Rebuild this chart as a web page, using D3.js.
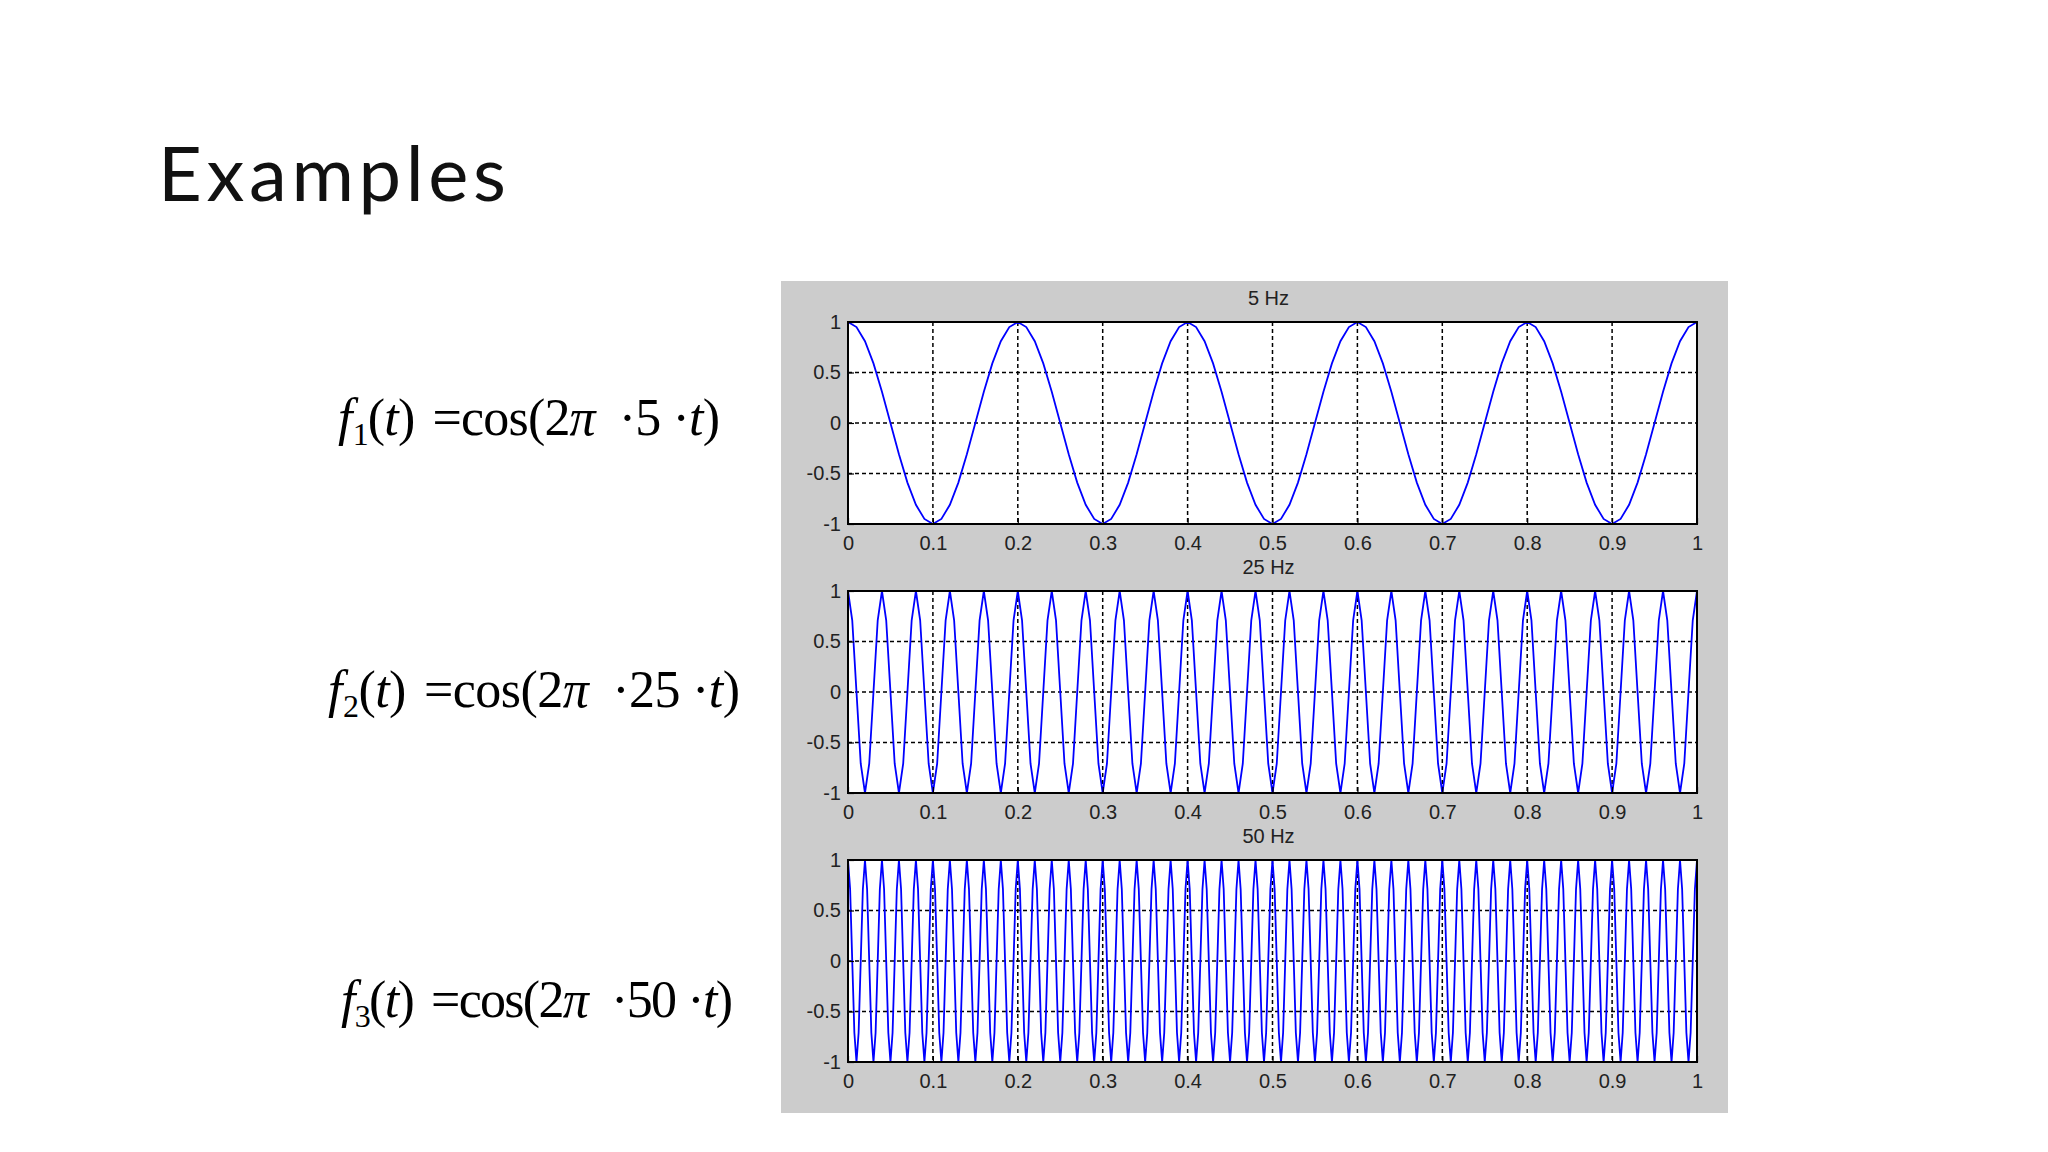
<!DOCTYPE html>
<html>
<head>
<meta charset="utf-8">
<script src="https://cdn.jsdelivr.net/npm/d3@7"></script>
<style>
  body { margin: 0; background: #fff; }
  svg { display: block; }
</style>
</head>
<body>
<svg width="2048" height="1152"></svg>
<script>
// chart data
var titles = ['5 Hz', '25 Hz', '50 Hz'];
var subs = ['1', '2', '3'];
var freqLabels = ['5', '25', '50'];
var xTicks = [0, 0.1, 0.2, 0.3, 0.4, 0.5, 0.6, 0.7, 0.8, 0.9, 1];
var yTicks = [-1, -0.5, 0, 0.5, 1];
var steps = [0.01, 0.005, 0.0025];

var wave5 = [
  1,.95,.81,.59,.31,0,-.31,-.59,-.81,-.95,-1,-.95,-.81,-.59,-.31,0,.31,.59,.81,.95,
  1,.95,.81,.59,.31,0,-.31,-.59,-.81,-.95,-1,-.95,-.81,-.59,-.31,0,.31,.59,.81,.95,
  1,.95,.81,.59,.31,0,-.31,-.59,-.81,-.95,-1,-.95,-.81,-.59,-.31,0,.31,.59,.81,.95,
  1,.95,.81,.59,.31,0,-.31,-.59,-.81,-.95,-1,-.95,-.81,-.59,-.31,0,.31,.59,.81,.95,
  1,.95,.81,.59,.31,0,-.31,-.59,-.81,-.95,-1,-.95,-.81,-.59,-.31,0,.31,.59,.81,.95,
  1];

var wave25 = [
  1,.71,0,-.71,-1,-.71,0,.71, 1,.71,0,-.71,-1,-.71,0,.71, 1,.71,0,-.71,-1,-.71,0,.71, 1,.71,0,-.71,-1,-.71,0,.71, 1,.71,0,-.71,-1,-.71,0,.71,
  1,.71,0,-.71,-1,-.71,0,.71, 1,.71,0,-.71,-1,-.71,0,.71, 1,.71,0,-.71,-1,-.71,0,.71, 1,.71,0,-.71,-1,-.71,0,.71, 1,.71,0,-.71,-1,-.71,0,.71,
  1,.71,0,-.71,-1,-.71,0,.71, 1,.71,0,-.71,-1,-.71,0,.71, 1,.71,0,-.71,-1,-.71,0,.71, 1,.71,0,-.71,-1,-.71,0,.71, 1,.71,0,-.71,-1,-.71,0,.71,
  1,.71,0,-.71,-1,-.71,0,.71, 1,.71,0,-.71,-1,-.71,0,.71, 1,.71,0,-.71,-1,-.71,0,.71, 1,.71,0,-.71,-1,-.71,0,.71, 1,.71,0,-.71,-1,-.71,0,.71,
  1,.71,0,-.71,-1,-.71,0,.71, 1,.71,0,-.71,-1,-.71,0,.71, 1,.71,0,-.71,-1,-.71,0,.71, 1,.71,0,-.71,-1,-.71,0,.71, 1,.71,0,-.71,-1,-.71,0,.71,
  1];

var wave50 = [
  1,.71,0,-.71,-1,-.71,0,.71, 1,.71,0,-.71,-1,-.71,0,.71, 1,.71,0,-.71,-1,-.71,0,.71, 1,.71,0,-.71,-1,-.71,0,.71, 1,.71,0,-.71,-1,-.71,0,.71,
  1,.71,0,-.71,-1,-.71,0,.71, 1,.71,0,-.71,-1,-.71,0,.71, 1,.71,0,-.71,-1,-.71,0,.71, 1,.71,0,-.71,-1,-.71,0,.71, 1,.71,0,-.71,-1,-.71,0,.71,
  1,.71,0,-.71,-1,-.71,0,.71, 1,.71,0,-.71,-1,-.71,0,.71, 1,.71,0,-.71,-1,-.71,0,.71, 1,.71,0,-.71,-1,-.71,0,.71, 1,.71,0,-.71,-1,-.71,0,.71,
  1,.71,0,-.71,-1,-.71,0,.71, 1,.71,0,-.71,-1,-.71,0,.71, 1,.71,0,-.71,-1,-.71,0,.71, 1,.71,0,-.71,-1,-.71,0,.71, 1,.71,0,-.71,-1,-.71,0,.71,
  1,.71,0,-.71,-1,-.71,0,.71, 1,.71,0,-.71,-1,-.71,0,.71, 1,.71,0,-.71,-1,-.71,0,.71, 1,.71,0,-.71,-1,-.71,0,.71, 1,.71,0,-.71,-1,-.71,0,.71,
  1,.71,0,-.71,-1,-.71,0,.71, 1,.71,0,-.71,-1,-.71,0,.71, 1,.71,0,-.71,-1,-.71,0,.71, 1,.71,0,-.71,-1,-.71,0,.71, 1,.71,0,-.71,-1,-.71,0,.71,
  1,.71,0,-.71,-1,-.71,0,.71, 1,.71,0,-.71,-1,-.71,0,.71, 1,.71,0,-.71,-1,-.71,0,.71, 1,.71,0,-.71,-1,-.71,0,.71, 1,.71,0,-.71,-1,-.71,0,.71,
  1,.71,0,-.71,-1,-.71,0,.71, 1,.71,0,-.71,-1,-.71,0,.71, 1,.71,0,-.71,-1,-.71,0,.71, 1,.71,0,-.71,-1,-.71,0,.71, 1,.71,0,-.71,-1,-.71,0,.71,
  1,.71,0,-.71,-1,-.71,0,.71, 1,.71,0,-.71,-1,-.71,0,.71, 1,.71,0,-.71,-1,-.71,0,.71, 1,.71,0,-.71,-1,-.71,0,.71, 1,.71,0,-.71,-1,-.71,0,.71,
  1,.71,0,-.71,-1,-.71,0,.71, 1,.71,0,-.71,-1,-.71,0,.71, 1,.71,0,-.71,-1,-.71,0,.71, 1,.71,0,-.71,-1,-.71,0,.71, 1,.71,0,-.71,-1,-.71,0,.71,
  1];

var waves = [wave5, wave25, wave50];

var draw = function(){
  var svg = d3.select('svg');

  // slide title
  svg.append('text')
    .attr('x', 158).attr('y', 201)
    .attr('font-family', 'Lato')
    .attr('font-weight', 400)
    .attr('font-size', 76)
    .attr('textLength', 348)
    .attr('fill', '#111')
    .text('Examples');

  // matlab figure background
  svg.append('rect')
    .attr('x', 781).attr('y', 281)
    .attr('width', 947).attr('height', 832)
    .attr('fill', '#cccccc');

  var left = 848, width = 849, plotH = 202;
  var plotTops = [322, 591, 860];
  var formulaY = [435, 707, 1017];
  var formulaX = [338, 328, 341];
  var formulaW = [382, 412, 392];

  var x = d3.scaleLinear().domain([0, 1]).range([left, left + width]);

  for (var i = 0; i < 3; i++) {
    var py = plotTops[i];
    var y = d3.scaleLinear().domain([-1, 1]).range([py + plotH, py]);
    var g = svg.append('g');

    g.append('rect')
      .attr('x', left).attr('y', py)
      .attr('width', width).attr('height', plotH)
      .attr('fill', '#fff');

    // grid
    g.selectAll('.vgrid').data(xTicks.slice(1, -1)).enter().append('line')
      .attr('x1', function(d){ return x(d); }).attr('x2', function(d){ return x(d); })
      .attr('y1', py).attr('y2', py + plotH)
      .attr('stroke', '#000').attr('stroke-width', 1.5).attr('stroke-dasharray', '4,3');
    g.selectAll('.hgrid').data(yTicks.slice(1, -1)).enter().append('line')
      .attr('x1', left).attr('x2', left + width)
      .attr('y1', function(d){ return y(d); }).attr('y2', function(d){ return y(d); })
      .attr('stroke', '#000').attr('stroke-width', 1.5).attr('stroke-dasharray', '4,3');

    // signal
    var step = steps[i];
    var line = d3.line()
      .x(function(d, k){ return x(k * step); })
      .y(function(d){ return y(d); });
    g.append('path')
      .datum(waves[i])
      .attr('d', line)
      .attr('fill', 'none')
      .attr('stroke', '#0000ff')
      .attr('stroke-width', 1.8);

    // axes
    var xAxis = d3.axisBottom(x).tickValues(xTicks).tickSizeInner(-6).tickSizeOuter(0).tickPadding(12)
      .tickFormat(function(d){ return d; });
    var yAxis = d3.axisLeft(y).tickValues(yTicks).tickSizeInner(-6).tickSizeOuter(0).tickPadding(7)
      .tickFormat(function(d){ return d; });

    var gx = g.append('g').attr('transform', 'translate(0,' + (py + plotH) + ')').call(xAxis);
    var gy = g.append('g').attr('transform', 'translate(' + left + ',0)').call(yAxis);
    [gx, gy].forEach(function(a){
      a.select('.domain').remove();
      a.selectAll('line').attr('stroke', '#000').attr('stroke-width', 1.2);
      a.selectAll('text')
        .attr('font-family', 'Liberation Sans')
        .attr('font-size', 20)
        .attr('fill', '#222');
    });

    g.append('rect')
      .attr('x', left).attr('y', py)
      .attr('width', width).attr('height', plotH)
      .attr('fill', 'none').attr('stroke', '#000').attr('stroke-width', 2);

    g.append('text')
      .attr('x', x(0.5) - 4).attr('y', py - 17)
      .attr('text-anchor', 'middle')
      .attr('font-family', 'Liberation Sans')
      .attr('font-size', 20)
      .attr('fill', '#222')
      .text(titles[i]);

    // formula
    var f = svg.append('text')
      .attr('x', formulaX[i]).attr('y', formulaY[i])
      .attr('font-family', 'Liberation Serif')
      .attr('font-size', 52)
      .attr('textLength', formulaW[i])
      .attr('lengthAdjust', 'spacing')
      .attr('fill', '#000');
    f.append('tspan').attr('font-style', 'italic').text('f');
    f.append('tspan').attr('font-size', 32).attr('dy', 10).attr('dx', 1).text(subs[i]);
    f.append('tspan').attr('dy', -10).text('(');
    f.append('tspan').attr('font-style', 'italic').text('t');
    f.append('tspan').text(')');
    f.append('tspan').attr('dx', 18).text('=cos(2');
    f.append('tspan').attr('font-style', 'italic').text('π');
    f.append('tspan').attr('dx', 24).text('·' + freqLabels[i]);
    f.append('tspan').attr('dx', 12).text('·');
    f.append('tspan').attr('font-style', 'italic').text('t');
    f.append('tspan').text(')');
  }
};
draw();
</script>
</body>
</html>
